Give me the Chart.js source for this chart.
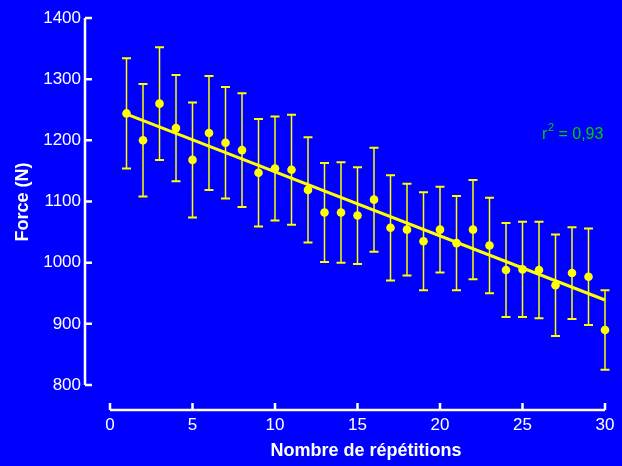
<!DOCTYPE html>
<html>
<head>
<meta charset="utf-8">
<script src="https://cdn.jsdelivr.net/npm/chart.js@4/dist/chart.umd.min.js"></script>
<style>
  html, body { margin: 0; padding: 0; background: #0000ff; }
  #wrap { width: 622px; height: 466px; }
</style>
</head>
<body>
<div id="wrap"><canvas id="myChart" width="622" height="466"></canvas></div>
<script>
// values
const reps = [1, 2, 3, 4, 5, 6, 7, 8, 9, 10, 11, 12, 13, 14, 15, 16, 17, 18, 19, 20, 21, 22, 23, 24, 25, 26, 27, 28, 29, 30];
const force = [1244, 1200, 1260, 1220, 1168, 1212, 1196, 1184, 1147, 1154, 1152, 1119, 1082, 1082, 1077, 1103, 1057, 1054, 1035, 1054, 1032, 1054, 1028, 988, 989, 988, 963, 983, 977, 890];
const sd = [90, 92, 92, 87, 94, 93, 91, 93, 88, 85, 90, 86, 81, 82, 79, 85, 86, 75, 80, 70, 77, 81, 78, 77, 78, 79, 83, 75, 79, 65];
const fitX = [1, 30];
const fitY = [1243, 939];
const yTicks = [800, 900, 1000, 1100, 1200, 1300, 1400];
const xTicks = [0, 5, 10, 15, 20, 25, 30];
const r2Text = '0,93';

const yellow = '#ffff00';
const white = '#ffffff';
const fontFamily = '"Liberation Sans", Arial, sans-serif';

const bgPlugin = {
    id: 'bg',
    beforeDraw(chart) {
        const c = chart.ctx;
        c.save();
        c.fillStyle = '#0000ff';
        c.fillRect(0, 0, chart.width, chart.height);
        c.restore();
    }
};

const errorBars = {
    id: 'errorBars',
    beforeDatasetsDraw(chart) {
        const c = chart.ctx;
        const xs = chart.scales.x, ys = chart.scales.y;
        c.save();
        c.strokeStyle = yellow;
        reps.forEach((r, i) => {
            const px = xs.getPixelForValue(r);
            const top = ys.getPixelForValue(force[i] + sd[i]);
            const bot = ys.getPixelForValue(force[i] - sd[i]);
            c.lineWidth = 1.5;
            c.beginPath();
            c.moveTo(px, top);
            c.lineTo(px, bot);
            c.stroke();
            c.lineWidth = 2;
            c.beginPath();
            c.moveTo(px - 4.5, top);
            c.lineTo(px + 4.5, top);
            c.moveTo(px - 4.5, bot);
            c.lineTo(px + 4.5, bot);
            c.stroke();
        });
        c.restore();
    }
};

// detached axes, titles and r² label
const decor = {
    id: 'decor',
    afterDraw(chart) {
        const c = chart.ctx;
        const xs = chart.scales.x, ys = chart.scales.y;
        const ax = chart.chartArea.left - 25;
        const ay = chart.chartArea.bottom + 25;
        c.save();
        c.strokeStyle = white;
        c.lineWidth = 2.5;
        c.beginPath();
        c.moveTo(ax, ys.getPixelForValue(yTicks[0]));
        c.lineTo(ax, ys.getPixelForValue(yTicks[yTicks.length - 1]));
        yTicks.forEach(v => {
            const py = ys.getPixelForValue(v);
            c.moveTo(ax, py);
            c.lineTo(ax + 7, py);
        });
        c.moveTo(xs.getPixelForValue(xTicks[0]), ay);
        c.lineTo(xs.getPixelForValue(xTicks[xTicks.length - 1]), ay);
        xTicks.forEach(v => {
            const px = xs.getPixelForValue(v);
            c.moveTo(px, ay);
            c.lineTo(px, ay - 7);
        });
        c.stroke();

        c.fillStyle = white;
        c.font = 'bold 18px ' + fontFamily;
        c.textAlign = 'center';
        c.textBaseline = 'middle';
        c.fillText('Nombre de répétitions', 366, 451);
        c.translate(23, 202);
        c.rotate(-Math.PI / 2);
        c.fillText('Force (N)', 0, 0);
        c.restore();

        c.save();
        c.fillStyle = '#00cc00';
        c.textAlign = 'left';
        c.textBaseline = 'alphabetic';
        c.font = '16px ' + fontFamily;
        c.fillText('r', 542, 139);
        c.font = '11px ' + fontFamily;
        c.fillText('2', 548, 131);
        c.font = '16px ' + fontFamily;
        c.fillText(' = ' + r2Text, 554, 139);
        c.restore();
    }
};

const ctx = document.getElementById('myChart').getContext('2d');
const myChart = new Chart(ctx, {
    type: 'scatter',
    data: {
        datasets: [{
            label: 'Force',
            data: reps.map((r, i) => ({ x: r, y: force[i] })),
            backgroundColor: yellow,
            borderWidth: 0,
            pointRadius: 4.3,
            clip: false,
            order: 0
        }, {
            type: 'line',
            label: 'Régression',
            data: fitX.map((x, i) => ({ x: x, y: fitY[i] })),
            borderColor: yellow,
            borderWidth: 3,
            pointRadius: 0,
            fill: false,
            clip: false,
            order: 1
        }]
    },
    options: {
        responsive: false,
        animation: false,
        layout: { padding: { top: 18, right: 17, left: 0, bottom: 0 } },
        plugins: {
            legend: { display: false },
            tooltip: { enabled: false }
        },
        scales: {
            x: {
                type: 'linear',
                min: 0,
                max: 30,
                grid: { display: false },
                border: { display: false },
                ticks: {
                    stepSize: 5,
                    color: white,
                    padding: 22,
                    font: { family: fontFamily, size: 17 },
                    callback: v => String(v)
                },
                afterFit(scale) {
                    scale.height = 81;
                    scale.paddingLeft = 0;
                    scale.paddingRight = 0;
                }
            },
            y: {
                min: 800,
                max: 1400,
                grid: { display: false },
                border: { display: false },
                ticks: {
                    stepSize: 100,
                    color: white,
                    padding: 21,
                    font: { family: fontFamily, size: 17 },
                    callback: v => String(v)
                },
                afterFit(scale) {
                    scale.width = 110;
                    scale.paddingTop = 0;
                    scale.paddingBottom = 0;
                }
            }
        }
    },
    plugins: [bgPlugin, errorBars, decor]
});
</script>
</body>
</html>
